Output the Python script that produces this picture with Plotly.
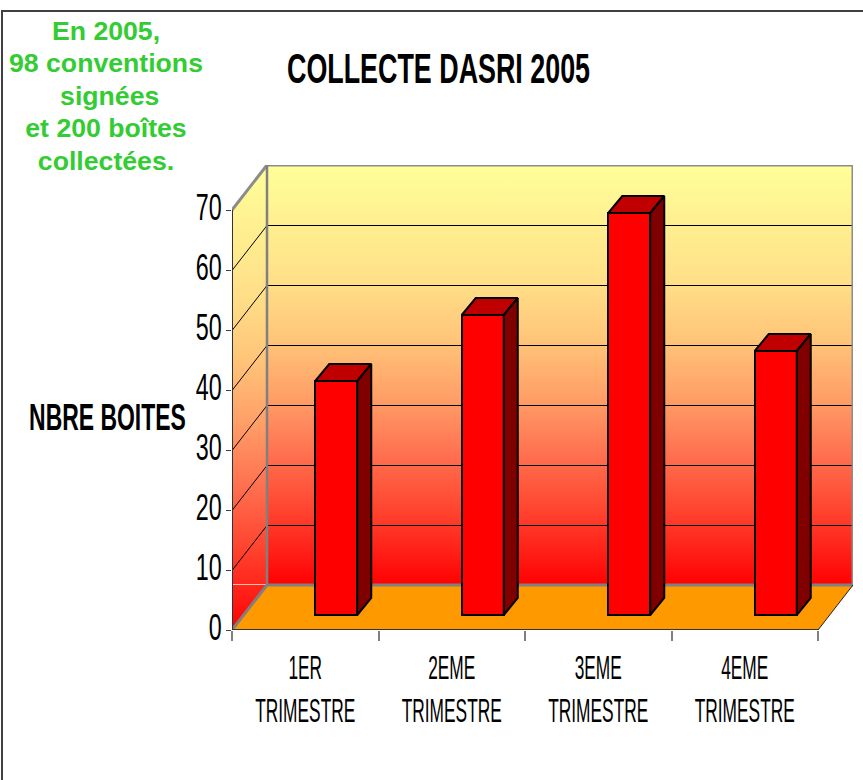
import plotly.graph_objects as go

# ---- data ----
categories = ["1ER<br>TRIMESTRE", "2EME<br>TRIMESTRE", "3EME<br>TRIMESTRE", "4EME<br>TRIMESTRE"]
values = [39, 50, 67, 44]
y_ticks = [0, 10, 20, 30, 40, 50, 60, 70]
title_text = "COLLECTE DASRI 2005"
y_title = "NBRE BOITES"
note_text = "En 2005,<br>98 conventions<br>\u00a0signées<br>et 200 boîtes<br>collectées."

# ---- layout geometry (pixels) ----
W, H = 863, 780
PL, PT, PR, PB = 232, 165, 853, 630     # plot box on the page
CAT_PX = 146.5
PX_Y = 6.0
DX = 35 / CAT_PX       # depth of the walls in axis units
DY = 45 / PX_Y
BAR_DX = 14 / CAT_PX   # depth of a bar
BAR_DY = 17 / PX_Y
BAR_W = 42 / CAT_PX
BAR_SHIFT = 31 / CAT_PX
BAR_BASE = 15 / PX_Y
NUDGE = 0.5 / PX_Y     # keeps the thin grid lines on a whole pixel row
XMAX = (PR - PL) / CAT_PX
YMAX = (PB - PT) / PX_Y
YTOP = y_ticks[-1]
N = len(categories)

GRAD = [[0.0, "#FF0000"], [0.08, "#FF2018"], [0.2, "#FF4C34"], [0.31, "#FF7050"], [0.45, "#FFA068"],
        [0.58, "#FFC478"], [0.72, "#FFDF88"], [1.0, "#FFFF99"]]

def px(x): return (x - PL) / (PR - PL)
def py(y): return (PB - y) / (PB - PT)

fig = go.Figure()

def poly(xs, ys, color=None, line=None, lw=0, grad=None, axes=("x", "y"), close=True):
    kw = dict(x=xs + xs[:1] if close else xs, y=ys + ys[:1] if close else ys,
              mode="lines", xaxis=axes[0], yaxis=axes[1], hoverinfo="skip",
              showlegend=False, cliponaxis=False,
              line=dict(color=line or "rgba(0,0,0,0)", width=lw))
    if close:
        kw["fill"] = "toself"
        if grad:
            kw["fillgradient"] = dict(type="vertical", colorscale=grad)
        else:
            kw["fillcolor"] = color
    fig.add_trace(go.Scatter(**kw))

# walls and floor
poly([DX, DX + N, DX + N, DX], [DY, DY, DY + YTOP, DY + YTOP], grad=GRAD)
poly([0, DX, DX, 0], [0, DY, DY + YTOP, YTOP], grad=GRAD)
poly([0, N, N + DX, DX], [0, 0, DY, DY], color="#FF9900")

# grid lines
for v in y_ticks[1:-1]:
    poly([0, DX, DX + N], [v - NUDGE, v + DY - NUDGE, v + DY - NUDGE], line="#000000", lw=1, close=False)
# pale line on the side wall at floor level
poly([0, DX], [DY + NUDGE, DY + NUDGE], line="#FFC0B0", lw=1, close=False)

# wall edges
poly([0, DX, DX + N, DX + N], [YTOP, YTOP + DY, YTOP + DY, DY], line="#8C8C8C", lw=3, close=False)
poly([DX, DX], [DY, YTOP + DY], line="#808080", lw=2.5, close=False)
poly([0, DX, DX + N], [0, DY, DY], line="#808080", lw=3, close=False)
poly([N, N + DX], [0, DY], line="#202020", lw=1, close=False)

# axis lines
poly([0, 0], [0, YTOP], line="#333333", lw=2, close=False)
poly([0, N], [0, 0], line="#333333", lw=2, close=False)

# bars on the overlay axes so they sit above the walls
centers = [i + 0.5 + BAR_SHIFT for i in range(N)]
fig.add_trace(go.Bar(x=centers, y=values, base=[BAR_BASE] * N, width=BAR_W,
                     xaxis="x2", yaxis="y2", hoverinfo="skip", showlegend=False,
                     marker=dict(color="#FF0000", line=dict(color="#000000", width=2))))
for c, v in zip(centers, values):
    l, r = c - BAR_W / 2, c + BAR_W / 2
    t = BAR_BASE + v
    poly([l, r, r + BAR_DX, l + BAR_DX], [t, t, t + BAR_DY, t + BAR_DY],
         color="#C00000", line="#000000", lw=2, axes=("x2", "y2"))
    poly([r, r + BAR_DX, r + BAR_DX, r], [BAR_BASE, BAR_BASE + BAR_DY, t + BAR_DY, t],
         color="#800000", line="#000000", lw=2, axes=("x2", "y2"))

FONT = "Liberation Sans, Arial, sans-serif"
axis_common = dict(showgrid=False, zeroline=False, showline=False, automargin=False)
ann = dict(xref="paper", yref="paper", showarrow=False, xanchor="center", yanchor="middle")
fig.update_layout(
    width=W, height=H, autosize=False,
    margin=dict(l=PL, r=W - PR, t=PT, b=H - PB, pad=0, autoexpand=False),
    paper_bgcolor="white", plot_bgcolor="white", showlegend=False,
    bargap=0, hovermode=False,
    xaxis=dict(range=[0, XMAX], tickmode="array",
               tickvals=[i + 0.5 for i in range(N)], ticktext=categories,
               ticks="", ticklabelstandoff=15, tickangle=0,
               tickfont=dict(family=FONT, size=33, color="#000000"),
               minor=dict(tickmode="array", tickvals=list(range(N + 1)), ticks="outside",
                          ticklen=10, tickwidth=2, tickcolor="#808080"),
               **axis_common),
    yaxis=dict(range=[0, YMAX], tickmode="array", tickvals=y_ticks, ticks="outside",
               ticklen=5, tickwidth=1, tickcolor="#404040",
               tickfont=dict(family=FONT, size=37, color="#000000"), **axis_common),
    xaxis2=dict(range=[0, XMAX], overlaying="x", visible=False),
    yaxis2=dict(range=[0, YMAX], overlaying="y", visible=False),
    annotations=[
        dict(text=title_text, x=px(438), y=py(68),
             font=dict(family=FONT, size=43, color="#000000", weight="bold"), **ann),
        dict(text=y_title, x=px(107), y=py(417),
             font=dict(family=FONT, size=37, color="#000000", weight="bold"), **ann),
        dict(text=note_text, x=px(106), y=py(96),
             font=dict(family=FONT, size=25, color="#33CC33", weight="bold"), **ann),
    ],
    shapes=[
        dict(type="line", xref="paper", yref="paper", x0=px(1), x1=px(W), y0=py(11), y1=py(11),
             line=dict(color="#404040", width=2)),
        dict(type="line", xref="paper", yref="paper", x0=px(2), x1=px(2), y0=py(11), y1=py(H),
             line=dict(color="#404040", width=2)),
    ],
)

post = """
document.body.style.margin = '0';
document.body.style.overflow = 'hidden';
function squeeze(el, k, rightAnchored, dx, dy) {
  var b = el.getBBox(), cx = rightAnchored ? b.x + b.width : b.x + b.width / 2;
  var old = el.getAttribute('transform') || '';
  el.setAttribute('transform', old + ' translate(' + (cx + (dx || 0)) + ',' + (dy || 0) + ') scale(' + k + ',1) translate(' + (-cx) + ',0)');
}
document.querySelectorAll('.xtick text').forEach(function (e) { squeeze(e, 0.525); });
document.querySelectorAll('.ytick text').forEach(function (e) { squeeze(e, 0.63, true, 3, -3); });
document.querySelectorAll('.annotation-text').forEach(function (e) {
  var t = e.textContent;
  if (t.indexOf('COLLECTE') === 0) squeeze(e, 0.625);
  else if (t.indexOf('NBRE') === 0) squeeze(e, 0.62);
  else squeeze(e, 1.066);
});
"""
fig.write_html("out.html", post_script=post, config={"displayModeBar": False})
